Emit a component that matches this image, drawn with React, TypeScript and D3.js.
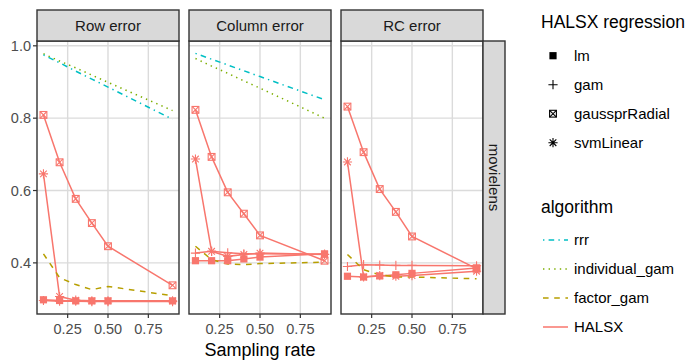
import * as d3 from 'd3';
import React from 'react';

const width = 697;
const height = 360;
const font = 'Liberation Sans, Arial, Helvetica, sans-serif';

// facet geometry
const panelTop = 41;
const panelBottom = 314;
const panelLefts = [37, 189, 341];
const panelWidth = 142;
const stripHeight = 31;
const stripRightWidth = 22;

const samplingRates = [0.1, 0.2, 0.3, 0.4, 0.5, 0.9];
const panels = ['Row error', 'Column error', 'RC error'];
const xTicks = [0.25, 0.5, 0.75];
const yTicks = [0.4, 0.6, 0.8, 1.0];
const regressions = ['lm', 'gam', 'gaussprRadial', 'svmLinear'];
const algorithms = ['rrr', 'individual_gam', 'factor_gam', 'HALSX'];

// Row error
const rowRrr = [0.975, 0.953, 0.93, 0.908, 0.886, 0.797];
const rowIndividualGam = [0.978, 0.958, 0.939, 0.919, 0.899, 0.821];
const rowFactorGam = [0.425, 0.359, 0.34, 0.326, 0.335, 0.309];
const rowLm = [0.298, 0.296, 0.295, 0.295, 0.295, 0.295];
const rowGam = [0.296, 0.294, 0.294, 0.293, 0.293, 0.293];
const rowGausspr = [0.809, 0.678, 0.577, 0.51, 0.446, 0.338];
const rowSvm = [0.646, 0.307, 0.297, 0.295, 0.295, 0.295];

// Column error
const colRrr = [0.979, 0.963, 0.947, 0.931, 0.915, 0.851];
const colIndividualGam = [0.965, 0.944, 0.924, 0.903, 0.883, 0.8];
const colFactorGam = [0.446, 0.409, 0.397, 0.395, 0.398, 0.402];
const colLm = [0.406, 0.406, 0.406, 0.411, 0.416, 0.425];
const colGam = [0.427, 0.432, 0.428, 0.425, 0.425, 0.424];
const colGausspr = [0.823, 0.693, 0.595, 0.536, 0.476, 0.406];
const colSvm = [0.687, 0.432, 0.418, 0.423, 0.427, 0.423];

// RC error (no rrr / individual_gam)
const rcFactorGam = [0.423, 0.381, 0.367, 0.361, 0.361, 0.356];
const rcLm = [0.363, 0.361, 0.364, 0.367, 0.371, 0.386];
const rcGam = [0.39, 0.395, 0.394, 0.393, 0.393, 0.392];
const rcGausspr = [0.832, 0.706, 0.604, 0.541, 0.473, 0.384];
const rcSvm = [0.679, 0.361, 0.365, 0.363, 0.365, 0.377];

const colors = {
  rrr: '#00BFC4',
  individual_gam: '#7CAE00',
  factor_gam: '#B79F00',
  HALSX: '#F8766D'
};
const dashes = {
  rrr: '1.4 4.2 5.6 4.2',
  individual_gam: '1.4 4.2',
  factor_gam: '5.6 5.6',
  HALSX: null
};

type Series = { panel: number; algorithm: string; regression: string | null; values: number[] };

const series: Series[] = [
  { panel: 0, algorithm: 'rrr', regression: null, values: rowRrr },
  { panel: 0, algorithm: 'individual_gam', regression: null, values: rowIndividualGam },
  { panel: 0, algorithm: 'factor_gam', regression: null, values: rowFactorGam },
  { panel: 0, algorithm: 'HALSX', regression: 'lm', values: rowLm },
  { panel: 0, algorithm: 'HALSX', regression: 'gam', values: rowGam },
  { panel: 0, algorithm: 'HALSX', regression: 'gaussprRadial', values: rowGausspr },
  { panel: 0, algorithm: 'HALSX', regression: 'svmLinear', values: rowSvm },
  { panel: 1, algorithm: 'rrr', regression: null, values: colRrr },
  { panel: 1, algorithm: 'individual_gam', regression: null, values: colIndividualGam },
  { panel: 1, algorithm: 'factor_gam', regression: null, values: colFactorGam },
  { panel: 1, algorithm: 'HALSX', regression: 'lm', values: colLm },
  { panel: 1, algorithm: 'HALSX', regression: 'gam', values: colGam },
  { panel: 1, algorithm: 'HALSX', regression: 'gaussprRadial', values: colGausspr },
  { panel: 1, algorithm: 'HALSX', regression: 'svmLinear', values: colSvm },
  { panel: 2, algorithm: 'factor_gam', regression: null, values: rcFactorGam },
  { panel: 2, algorithm: 'HALSX', regression: 'lm', values: rcLm },
  { panel: 2, algorithm: 'HALSX', regression: 'gam', values: rcGam },
  { panel: 2, algorithm: 'HALSX', regression: 'gaussprRadial', values: rcGausspr },
  { panel: 2, algorithm: 'HALSX', regression: 'svmLinear', values: rcSvm }
];

// ggplot-like 5% expansion
const expand = (ext: [number, number]) => {
  const pad = (ext[1] - ext[0]) * 0.05;
  return [ext[0] - pad, ext[1] + pad];
};

const allValues = series.flatMap(s => s.values);
const yScale = d3
  .scaleLinear()
  .domain(expand(d3.extent(allValues) as [number, number]))
  .range([panelBottom, panelTop]);
const xDomain = expand(d3.extent(samplingRates) as [number, number]);

function Shape({ type, x, y, color }: { type: string; x: number; y: number; color: string }) {
  const s = 3.6;
  if (type === 'lm') {
    return <rect x={x - s} y={y - s} width={2 * s} height={2 * s} fill={color} />;
  }
  if (type === 'gam') {
    const a = 4.6;
    return (
      <path d={`M${x - a},${y}H${x + a}M${x},${y - a}V${y + a}`} stroke={color} strokeWidth={1.1} fill="none" />
    );
  }
  if (type === 'gaussprRadial') {
    const q = 3.4;
    return (
      <g stroke={color} strokeWidth={1.1} fill="none">
        <rect x={x - q} y={y - q} width={2 * q} height={2 * q} />
        <path d={`M${x - q},${y - q}L${x + q},${y + q}M${x - q},${y + q}L${x + q},${y - q}`} />
      </g>
    );
  }
  const a = 4.6;
  const d = a * 0.72;
  return (
    <path
      d={`M${x - a},${y}H${x + a}M${x},${y - a}V${y + a}M${x - d},${y - d}L${x + d},${y + d}M${x - d},${y + d}L${x + d},${y - d}`}
      stroke={color}
      strokeWidth={1.1}
      fill="none"
    />
  );
}

function Panel({ index }: { index: number }) {
  const left = panelLefts[index];
  const xScale = d3.scaleLinear().domain(xDomain).range([left, left + panelWidth]);
  const line = d3
    .line<number>()
    .x((_, i) => xScale(samplingRates[i]))
    .y(v => yScale(v));
  const mine = series.filter(s => s.panel === index);
  const lineOrder = [...mine].sort((a, b) => algorithms.indexOf(b.algorithm) - algorithms.indexOf(a.algorithm));

  return (
    <g>
      <clipPath id={`clip${index}`}>
        <rect x={left} y={panelTop} width={panelWidth} height={panelBottom - panelTop} />
      </clipPath>
      <rect x={left} y={panelTop} width={panelWidth} height={panelBottom - panelTop} fill="#fff" />
      {yTicks.map(t => (
        <line key={t} x1={left} x2={left + panelWidth} y1={yScale(t)} y2={yScale(t)} stroke="#DBDBDB" strokeWidth={1.4} />
      ))}
      {xTicks.map(t => (
        <line key={t} x1={xScale(t)} x2={xScale(t)} y1={panelTop} y2={panelBottom} stroke="#DBDBDB" strokeWidth={1.4} />
      ))}
      <g clipPath={`url(#clip${index})`}>
        {lineOrder.map((s, i) => (
          <path
            key={i}
            d={line(s.values) || ''}
            fill="none"
            stroke={colors[s.algorithm]}
            strokeWidth={1.5}
            strokeDasharray={dashes[s.algorithm] || undefined}
          />
        ))}
        {mine
          .filter(s => s.regression)
          .map((s, i) =>
            s.values.map((v, j) => (
              <Shape key={`${i}-${j}`} type={s.regression as string} x={xScale(samplingRates[j])} y={yScale(v)} color={colors.HALSX} />
            ))
          )}
      </g>
      <rect x={left} y={panelTop} width={panelWidth} height={panelBottom - panelTop} fill="none" stroke="#333" strokeWidth={1.4} />
      {/* strip */}
      <rect x={left} y={panelTop - stripHeight} width={panelWidth} height={stripHeight} fill="#D9D9D9" stroke="#333" strokeWidth={1.4} />
      <text x={left + panelWidth / 2} y={panelTop - stripHeight / 2} dy="0.35em" textAnchor="middle" fontSize={15} fill="#1A1A1A">
        {panels[index]}
      </text>
      {/* x axis */}
      {xTicks.map(t => (
        <g key={t}>
          <line x1={xScale(t)} x2={xScale(t)} y1={panelBottom} y2={panelBottom + 4} stroke="#333" strokeWidth={1.2} />
          <text x={xScale(t)} y={panelBottom + 15} dy="0.35em" textAnchor="middle" fontSize={14.5} fill="#4D4D4D">
            {d3.format('.2f')(t)}
          </text>
        </g>
      ))}
    </g>
  );
}

export default function App() {
  const lastRight = panelLefts[2] + panelWidth;
  const legendX = 541;
  return (
    <svg width={width} height={height} style={{ position: 'absolute', left: 0, top: 0, fontFamily: font }}>
      <rect width={width} height={height} fill="#fff" />
      {panels.map((_, i) => (
        <Panel key={i} index={i} />
      ))}
      {/* y axis */}
      {yTicks.map(t => (
        <g key={t}>
          <line x1={panelLefts[0] - 4} x2={panelLefts[0]} y1={yScale(t)} y2={yScale(t)} stroke="#333" strokeWidth={1.2} />
          <text x={panelLefts[0] - 6} y={yScale(t)} dy="0.35em" textAnchor="end" fontSize={14.5} fill="#4D4D4D">
            {d3.format('.1f')(t)}
          </text>
        </g>
      ))}
      {/* right strip */}
      <rect x={lastRight} y={panelTop} width={stripRightWidth} height={panelBottom - panelTop} fill="#D9D9D9" stroke="#333" strokeWidth={1.4} />
      <text
        transform={`translate(${lastRight + stripRightWidth / 2},${(panelTop + panelBottom) / 2}) rotate(90)`}
        dy="0.35em"
        textAnchor="middle"
        fontSize={15}
        fill="#1A1A1A"
      >
        movielens
      </text>
      <text x={(panelLefts[0] + lastRight) / 2} y={350} dy="0.35em" textAnchor="middle" fontSize={18} fill="#000">
        Sampling rate
      </text>
      {/* legend: regression */}
      <text x={legendX} y={22} dy="0.35em" fontSize={17.5} fill="#000">
        HALSX regression
      </text>
      {regressions.map((r, i) => (
        <g key={r}>
          <Shape type={r} x={553} y={55.7 + i * 29} color="#000" />
          <text x={574} y={55.7 + i * 29} dy="0.35em" fontSize={15} fill="#000">
            {r}
          </text>
        </g>
      ))}
      {/* legend: algorithm */}
      <text x={legendX} y={207} dy="0.35em" fontSize={17.5} fill="#000">
        algorithm
      </text>
      {algorithms.map((a, i) => (
        <g key={a}>
          <line
            x1={543}
            x2={568}
            y1={240 + i * 29}
            y2={240 + i * 29}
            stroke={colors[a]}
            strokeWidth={1.5}
            strokeDasharray={dashes[a] || undefined}
          />
          <text x={574} y={240 + i * 29} dy="0.35em" fontSize={15} fill="#000">
            {a}
          </text>
        </g>
      ))}
    </svg>
  );
}
